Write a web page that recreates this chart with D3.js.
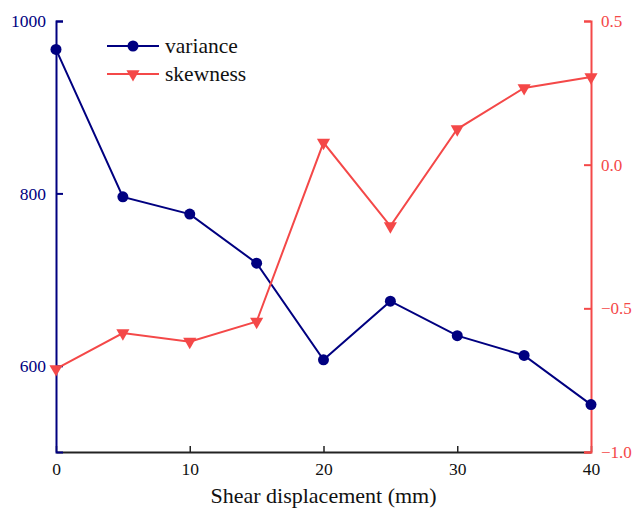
<!DOCTYPE html>
<html><head><meta charset="utf-8">
<script src="https://cdn.jsdelivr.net/npm/d3@7"></script>
<style>body{margin:0;background:#fff}svg{display:block}</style>
</head><body>
<script>
const displacement = [0, 5, 10, 15, 20, 25, 30, 35, 40];
const variance = [967, 796, 776, 719, 607, 675, 635, 612, 555];
const skewness = [-0.711, -0.586, -0.616, -0.546, 0.077, -0.214, 0.124, 0.267, 0.305];
const xTicks = [0, 10, 20, 30, 40];
const leftTicks = [600, 800, 1000];
const rightTicks = [-1.0, -0.5, 0.0, 0.5];
const seriesNames = ["variance", "skewness"];

const W = 632, H = 508;
const m = {l: 56, r: 591, t: 21, b: 452};
const blue = "#000080", red = "#f44848";
const FONT = "'Liberation Serif', 'Times New Roman', serif";

const svg = d3.select("body").append("svg").attr("width", W).attr("height", H);
const x = d3.scaleLinear().domain([0, 40]).range([m.l, m.r]);
const yL = d3.scaleLinear().domain([500, 1000]).range([m.b, m.t]);
const yR = d3.scaleLinear().domain([-1.0, 0.5]).range([m.b, m.t]);

// bottom axis
const gx = svg.append("g").attr("transform", `translate(0,${m.b})`)
  .call(d3.axisBottom(x).tickValues(xTicks).tickFormat(d3.format("d")).tickSizeInner(-6).tickSizeOuter(0).tickPadding(11));
gx.select(".domain").attr("stroke", "#222").attr("stroke-width", 2);
gx.selectAll(".tick line").attr("stroke", "#222").attr("stroke-width", 1.5);
gx.selectAll(".tick text").style("font-family", FONT).style("font-size", "17.5px").attr("fill", "#111");

// left axis
const gl = svg.append("g").attr("transform", `translate(${m.l},0)`)
  .call(d3.axisLeft(yL).tickValues(leftTicks).tickFormat(d3.format("d")).tickSizeInner(-7).tickSizeOuter(-7).tickPadding(10));
gl.select(".domain").attr("stroke", blue).attr("stroke-width", 2);
gl.selectAll(".tick line").attr("stroke", blue).attr("stroke-width", 2);
gl.selectAll(".tick text").style("font-family", FONT).style("font-size", "17.5px").attr("fill", blue);

// right axis
const gr = svg.append("g").attr("transform", `translate(${m.r},0)`)
  .call(d3.axisRight(yR).tickValues(rightTicks).tickFormat(d3.format(".1f")).tickSizeInner(-7).tickSizeOuter(-7).tickPadding(10));
gr.select(".domain").attr("stroke", red).attr("stroke-width", 2);
gr.selectAll(".tick line").attr("stroke", red).attr("stroke-width", 2);
gr.selectAll(".tick text").style("font-family", FONT).style("font-size", "17px").attr("fill", red);

// x title
svg.append("text").attr("x", (m.l + m.r) / 2).attr("y", 503).attr("text-anchor", "middle")
  .style("font-family", FONT).style("font-size", "22px").attr("fill", "#111").text("Shear displacement (mm)");

const tri = d3.symbol().type(d3.symbolTriangle).size(75);

// variance line
const varData = displacement.map((d, i) => [d, variance[i]]);
svg.append("path").datum(varData)
  .attr("fill", "none").attr("stroke", blue).attr("stroke-width", 2)
  .attr("d", d3.line().x(d => x(d[0])).y(d => yL(d[1])));
svg.selectAll(".vdot").data(varData).enter().append("circle")
  .attr("cx", d => x(d[0])).attr("cy", d => yL(d[1])).attr("r", 5.5).attr("fill", blue);

// skewness line
const skData = displacement.map((d, i) => [d, skewness[i]]);
svg.append("path").datum(skData)
  .attr("fill", "none").attr("stroke", red).attr("stroke-width", 2)
  .attr("d", d3.line().x(d => x(d[0])).y(d => yR(d[1])));
svg.selectAll(".sdot").data(skData).enter().append("path")
  .attr("d", tri).attr("fill", red)
  .attr("transform", d => `translate(${x(d[0])},${yR(d[1])}) rotate(180)`);

// legend
const lg = svg.append("g");
const ly = [46, 74];
seriesNames.forEach((name, i) => {
  const c = i === 0 ? blue : red;
  lg.append("line").attr("x1", 107).attr("x2", 159).attr("y1", ly[i]).attr("y2", ly[i])
    .attr("stroke", c).attr("stroke-width", 2);
  if (i === 0) lg.append("circle").attr("cx", 133).attr("cy", ly[i]).attr("r", 5.5).attr("fill", c);
  else lg.append("path").attr("d", tri).attr("fill", c).attr("transform", `translate(133,${ly[i]}) rotate(180)`);
  lg.append("text").attr("x", 165).attr("y", ly[i] + 6.5).style("font-family", FONT).style("font-size", "21.5px").attr("fill", "#111").text(name);
});
</script>
</body></html>
